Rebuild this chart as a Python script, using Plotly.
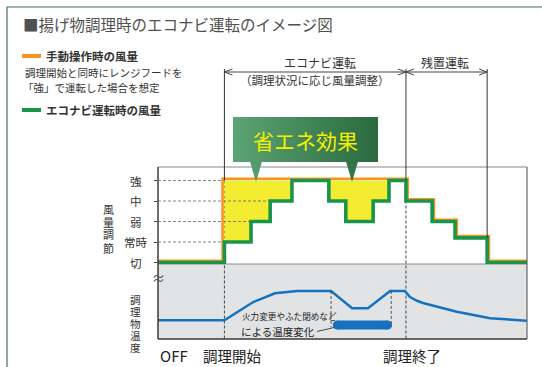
import plotly.graph_objects as go

# ---------------- data ----------------
level_labels = ["切", "常時", "弱", "中", "強"]
level_values = [0, 1, 2, 3, 4]

# EcoNavi airflow (step): level holds from time[i] to time[i+1]
econavi_t = [0, 18, 25.2, 30.4, 36.3, 46.3, 50.9, 58.3, 62.6, 67.2, 74.3, 80.5, 89.2, 100]
econavi_lv = [0, 1, 2, 3, 4, 3, 2, 3, 4, 3, 2, 1.2, 0]

# Manual operation airflow
manual_t = [0, 18, 67.2, 74.3, 80.5, 89.2, 100]
manual_lv = [0, 4, 3, 2, 1.2, 0]

# Food temperature (relative)
temp_t = [0, 18, 25.7, 31.7, 37.7, 46.9, 52.6, 56.9, 62.9, 66.9, 68.3, 70.2, 71.8, 81, 90, 100]
temp_v = [25, 25, 49, 61, 64, 64, 41, 41, 64, 64, 56, 51, 48, 36.4, 27.6, 24.4]

temp_change_window = [46.9, 63.2]   # dashed bracket
temp_change_bar = [48.6, 62.2]      # blue bar (centre line; round ends added)
temp_change_bar_y = 18.7
temp_bracket_low = 16

cook_start, cook_end, residual_end = 18, 67.2, 89.2

# ---------------- geometry ----------------
W, H = 542, 367
X_RANGE = [0, 100]
X_DOM = [158 / W, 527 / W]
Y1_RANGE = [-0.073, 4.66]
Y1_DOM = [1 - 264 / H, 1 - 167 / H]
Y2_RANGE = [0, 100]
Y2_DOM = [1 - 339 / H, 1 - 264 / H]

FONT = "Noto Sans CJK JP"
FONT_TIGHT = "Liberation Sans, Noto Sans CJK JP"
ORANGE = "#f7941d"
GREEN = "#17964a"
BLUE = "#1672be"
YELLOW = "#f3ec31"


def lin(v, r, d):
    return d[0] + (v - r[0]) / (r[1] - r[0]) * (d[1] - d[0])


def xp(t):
    return lin(t, X_RANGE, X_DOM)


def y1p(v):
    return lin(v, Y1_RANGE, Y1_DOM)


def y2p(v):
    return lin(v, Y2_RANGE, Y2_DOM)


def px(x):
    return x / W


def py(y):
    return 1 - y / H


def step_path(times, levels, dx=0.0, dy=0.0):
    xs = [times[0]]
    ys = [levels[0] + dy]
    for i in range(1, len(levels)):
        t = times[i]
        a, b = levels[i - 1], levels[i]
        off = -dx if b > a else dx
        xs += [t + off, t + off]
        ys += [a + dy, b + dy]
    xs.append(times[-1])
    ys.append(levels[-1] + dy)
    return xs, ys


fig = go.Figure()

# yellow saving area
gx, gy = step_path(econavi_t, econavi_lv)
seg = [(x, y) for x, y in zip(gx, gy) if cook_start <= x <= cook_end]
top_level = max(manual_lv)
poly_x = [cook_start, cook_end] + [p[0] for p in reversed(seg)]
poly_y = [top_level, top_level] + [p[1] for p in reversed(seg)]
fig.add_trace(go.Scatter(x=poly_x, y=poly_y, fill="toself", fillcolor=YELLOW,
                         line=dict(width=0), mode="lines", hoverinfo="skip",
                         xaxis="x", yaxis="y"))

# dashed level guide lines (from axis to the first curve reaching the level)
for L in level_values[1:]:
    end = next(t for t, lv in zip(econavi_t, econavi_lv) if lv >= L)
    if L >= top_level:
        end = min(end, next(t for t, lv in zip(manual_t, manual_lv) if lv >= L))
    fig.add_trace(go.Scatter(x=[0, end], y=[L, L], mode="lines",
                             line=dict(color="#666", width=0.8, dash="3px,2px"),
                             hoverinfo="skip", xaxis="x", yaxis="y"))

# manual (orange) and econavi (green)
ox, oy = step_path(manual_t, manual_lv, dx=0.5, dy=0.09)
fig.add_trace(go.Scatter(x=ox, y=oy, mode="lines", line=dict(color=ORANGE, width=2.5),
                         hoverinfo="skip", xaxis="x", yaxis="y"))
fig.add_trace(go.Scatter(x=gx, y=gy, mode="lines", line=dict(color=GREEN, width=3.6),
                         hoverinfo="skip", xaxis="x", yaxis="y"))

# temperature
fig.add_trace(go.Scatter(x=temp_t, y=temp_v, mode="lines", line=dict(color=BLUE, width=2.5),
                         hoverinfo="skip", xaxis="x", yaxis="y2"))
fig.add_trace(go.Scatter(x=temp_change_bar, y=[temp_change_bar_y] * 2, mode="lines+markers",
                         line=dict(color=BLUE, width=9), marker=dict(color=BLUE, size=9),
                         hoverinfo="skip", xaxis="x", yaxis="y2"))

shapes = []
# lower panel background
shapes.append(dict(type="rect", xref="paper", yref="paper", x0=X_DOM[0], x1=X_DOM[1],
                   y0=Y2_DOM[0], y1=Y2_DOM[1], fillcolor="#e2e3e5", line=dict(width=0), layer="below"))
shapes.append(dict(type="line", xref="paper", yref="paper", x0=X_DOM[0], x1=X_DOM[1],
                   y0=Y2_DOM[1], y1=Y2_DOM[1], line=dict(color="#8c8c8c", width=1), layer="below"))
# frame
shapes.append(dict(type="line", xref="paper", yref="paper", x0=X_DOM[0], x1=X_DOM[1],
                   y0=Y1_DOM[1], y1=Y1_DOM[1], line=dict(color="#8a8a8a", width=1.2)))
shapes.append(dict(type="line", xref="paper", yref="paper", x0=X_DOM[1], x1=X_DOM[1],
                   y0=Y2_DOM[0], y1=Y1_DOM[1], line=dict(color="#666", width=1.2)))
shapes.append(dict(type="line", xref="paper", yref="paper", x0=X_DOM[0], x1=X_DOM[0],
                   y0=Y2_DOM[0], y1=Y1_DOM[1], line=dict(color="#3a3a3a", width=1.5)))
shapes.append(dict(type="line", xref="paper", yref="paper", x0=X_DOM[0], x1=X_DOM[1],
                   y0=Y2_DOM[0], y1=Y2_DOM[0], line=dict(color="#3a3a3a", width=1.5)))

# event vertical lines
for t in (cook_start, cook_end):
    shapes.append(dict(type="line", xref="paper", yref="paper", x0=xp(t), x1=xp(t),
                       y0=py(69), y1=y1p(top_level), line=dict(color="#333", width=1)))
    shapes.append(dict(type="line", xref="paper", yref="paper", x0=xp(t), x1=xp(t),
                       y0=y1p(top_level), y1=Y2_DOM[0], line=dict(color="#444", width=1, dash="3px,2px"),
                       layer="below"))
shapes.append(dict(type="line", xref="paper", yref="paper", x0=xp(residual_end), x1=xp(residual_end),
                   y0=py(69), y1=y1p(econavi_lv[-2]), line=dict(color="#333", width=1)))

# temperature change bracket
for t in temp_change_window:
    shapes.append(dict(type="line", xref="x", yref="y2", x0=t, x1=t, y0=64, y1=temp_bracket_low,
                       line=dict(color="#444", width=0.9, dash="3px,2px")))
# leader line
shapes.append(dict(type="line", xref="paper", yref="paper", x0=px(317), x1=px(334),
                   y0=py(331.5), y1=py(327.5), line=dict(color="#333", width=0.9)))

# dimension lines with open arrowheads
DIM_Y = 72
for a, b in ((cook_start, cook_end), (cook_end, residual_end)):
    xa, xb = xp(a), xp(b)
    shapes.append(dict(type="line", xref="paper", yref="paper", x0=xa, x1=xb, y0=py(DIM_Y), y1=py(DIM_Y),
                       line=dict(color="#444", width=1)))
    al, ah = 8 / W, 3 / H
    yc = py(DIM_Y)
    shapes.append(dict(type="path", xref="paper", yref="paper",
                       path=f"M {xa+al},{yc+ah} L {xa},{yc} L {xa+al},{yc-ah}",
                       line=dict(color="#444", width=1)))
    shapes.append(dict(type="path", xref="paper", yref="paper",
                       path=f"M {xb-al},{yc+ah} L {xb},{yc} L {xb-al},{yc-ah}",
                       line=dict(color="#444", width=1)))

# legend bars
shapes.append(dict(type="line", xref="paper", yref="paper", x0=px(22), x1=px(41), y0=py(56), y1=py(56),
                   line=dict(color=ORANGE, width=4)))
shapes.append(dict(type="line", xref="paper", yref="paper", x0=px(22), x1=px(41), y0=py(110), y1=py(110),
                   line=dict(color=GREEN, width=4)))

# outer frame (green)
shapes.append(dict(type="rect", xref="paper", yref="paper", x0=px(7), x1=px(560), y0=py(380), y1=py(7),
                   line=dict(color="#3d7a52", width=1.2), fillcolor="rgba(0,0,0,0)"))

# callout box with horizontal gradient
BX0, BX1, BY0, BY1 = 233, 378, 117, 162
C0, C1 = (92, 164, 116), (42, 106, 62)


def grad(x):
    f = (x - BX0) / (BX1 - BX0)
    c = [round(C0[i] + f * (C1[i] - C0[i])) for i in range(3)]
    return f"rgb({c[0]},{c[1]},{c[2]})"


n = 58
step = (BX1 - BX0) / n
for i in range(n):
    x0 = BX0 + i * step
    shapes.append(dict(type="rect", xref="paper", yref="paper", x0=px(x0), x1=px(min(x0 + step + 0.6, BX1)),
                       y0=py(BY1), y1=py(BY0), fillcolor=grad(x0 + step / 2), line=dict(width=0)))
for cx in (256, 352):
    shapes.append(dict(type="path", xref="paper", yref="paper",
                       path=f"M {px(cx-6)},{py(BY1-0.5)} L {px(cx)},{py(182)} L {px(cx+6)},{py(BY1-0.5)} Z",
                       fillcolor=grad(cx), line=dict(width=0)))

ann = []


def T(text, x, y, size, color="#333", xanchor="center", yanchor="middle", xref="paper", yref="paper",
      family=FONT):
    ann.append(dict(text=text, x=x, y=y, xref=xref, yref=yref, showarrow=False, xanchor=xanchor,
                    yanchor=yanchor, font=dict(family=family, size=size, color=color)))


T("■揚げ物調理時のエコナビ運転のイメージ図", px(21), py(24), 15.5, "#505050", xanchor="left")
T("<b>手動操作時の風量</b>", px(44), py(56), 11.5, xanchor="left")
T("調理開始と同時にレンジフードを", px(23), py(73), 10.5, xanchor="left")
T("「強」で運転した場合を想定", px(21), py(87), 10.5, xanchor="left")
T("<b>エコナビ運転時の風量</b>", px(44), py(110), 11.5, xanchor="left")

T("エコナビ運転", px(320), py(63), 12)
T("（調理状況に応じ風量調整）", px(315), py(80), 11.5)
T("残置運転", px(445), py(63), 12)

T("省エネ効果", px(305), py(139.5), 21, "#f6ef00")

for lab, v in zip(level_labels, level_values):
    T(lab, px(136), v, 11.5, yref="y")

# vertical (stacked) axis titles, one glyph per line
for i, ch in enumerate("風量調節"):
    T(ch, px(108), py(210 + i * 12.7), 11, family=FONT_TIGHT)
for i, ch in enumerate("調理物温度"):
    T(ch, px(135), py(300 + i * 12.0), 10.6, family=FONT_TIGHT)

T("≈", px(158), py(277), 13, "#555")

T("火力変更やふた閉めなど", px(240), py(316), 8.6, "#222", xanchor="left")
T("による温度変化", px(239), py(331), 10.5, "#222", xanchor="left")

T("OFF", px(174), py(355), 15, "#222")
T("調理開始", px(232), py(355), 14.5, "#222")
T("調理終了", px(412), py(355), 14.5, "#222")

fig.update_layout(
    width=W, height=H, margin=dict(l=0, r=0, t=0, b=0),
    paper_bgcolor="white", plot_bgcolor="rgba(0,0,0,0)",
    showlegend=False, shapes=shapes, annotations=ann,
    xaxis=dict(domain=X_DOM, range=X_RANGE, anchor="y2", visible=False, fixedrange=True),
    yaxis=dict(domain=Y1_DOM, range=Y1_RANGE, anchor="x", tickvals=level_values, ticks="outside",
               ticklen=3, tickcolor="#444", showticklabels=False, showgrid=False, zeroline=False,
               showline=False, fixedrange=True),
    yaxis2=dict(domain=Y2_DOM, range=Y2_RANGE, anchor="x", visible=False, fixedrange=True),
)

fig.write_html("out.html")
